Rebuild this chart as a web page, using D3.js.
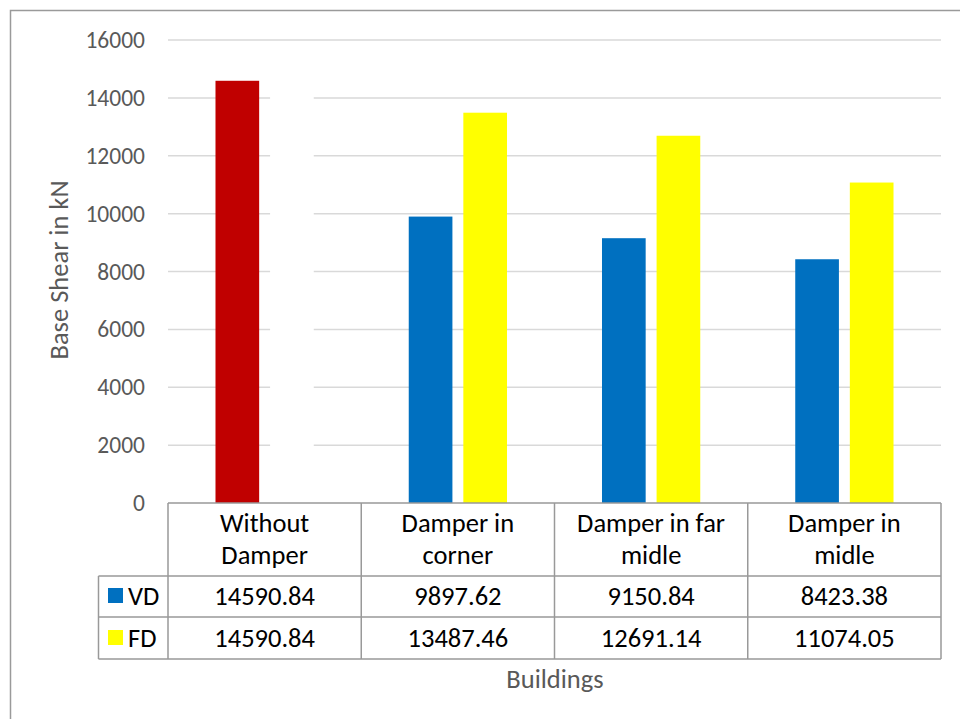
<!DOCTYPE html>
<html>
<head>
<meta charset="utf-8">
<script src="https://cdn.jsdelivr.net/npm/d3@7"></script>
<style>
  html, body { margin: 0; padding: 0; background: #fff; }
  svg { display: block; font-family: Calibri, Carlito, "Open Sans", sans-serif; }
</style>
</head>
<body>
<svg id="chart" width="960" height="719"></svg>
<script>
// Base shear per building layout, viscous (VD) and friction (FD) dampers
const categories = [["Without", "Damper"], ["Damper in", "corner"], ["Damper in far", "midle"], ["Damper in", "midle"]];
const seriesNames = ["VD", "FD"];
const vdValues = [14590.84, 9897.62, 9150.84, 8423.38];
const fdValues = [14590.84, 13487.46, 12691.14, 11074.05];
const tableLabels = {
  VD: ["14590.84", "9897.62", "9150.84", "8423.38"],
  FD: ["14590.84", "13487.46", "12691.14", "11074.05"]
};
const yTicks = [0, 2000, 4000, 6000, 8000, 10000, 12000, 14000, 16000];
const seriesColors = { VD: "#0070C0", FD: "#FFFF00" };

const svg = d3.select("#chart");
const plotLeft = 168, plotRight = 941, plotTop = 40, plotBottom = 503;

const catKeys = categories.map((c, i) => i);
const x = d3.scaleBand().domain(catKeys).range([plotLeft, plotRight]).padding(0);
const xs = d3.scaleBand().domain(seriesNames).range([0, x.bandwidth()])
  .paddingInner(0.2).paddingOuter(0.87);
const y = d3.scaleLinear().domain([0, 16000]).range([plotBottom, plotTop]);

// outer chart frame
svg.append("rect").attr("x", 10.5).attr("y", 10.5).attr("width", 1000).attr("height", 1000)
  .attr("fill", "none").attr("stroke", "#9a9a9a").attr("stroke-width", 1.5);

// gridlines
svg.append("g").selectAll("line").data(yTicks.filter(d => d > 0)).join("line")
  .attr("x1", plotLeft).attr("x2", plotRight)
  .attr("y1", d => y(d)).attr("y2", d => y(d))
  .attr("stroke", "#d9d9d9").attr("stroke-width", 1.5);

// y-axis tick labels
const yAxis = d3.axisLeft(y).tickValues(yTicks).tickSize(0).tickPadding(0).tickFormat(d3.format("d"));
const gy = svg.append("g").attr("transform", "translate(145,0)").call(yAxis);
gy.select(".domain").remove();
gy.selectAll("text").attr("font-size", 23.5).attr("fill", "#595959")
  .attr("font-family", "Calibri, Carlito, 'Open Sans', sans-serif");

// bars
const rows = catKeys.map(i => ({ i, VD: vdValues[i], FD: fdValues[i] }));
const barFill = (s, i) => {
  if (i === 0) return s === "VD" ? "#C00000" : "#FFFFFF";
  return seriesColors[s];
};
svg.append("g").selectAll("g").data(rows).join("g")
  .attr("transform", d => `translate(${x(d.i)},0)`)
  .selectAll("rect").data(d => seriesNames.map(s => ({ s, v: d[s], i: d.i }))).join("rect")
  .attr("x", d => xs(d.s)).attr("width", xs.bandwidth())
  .attr("y", d => y(d.v)).attr("height", d => y(0) - y(d.v))
  .attr("fill", d => barFill(d.s, d.i));

// data table
const rowTop = [503, 576, 617, 659];
const keyLeft = 98.5;
const tableStroke = "#999999";
const tg = svg.append("g").attr("stroke", tableStroke).attr("stroke-width", 1.5).attr("fill", "none");
tg.append("line").attr("x1", plotLeft).attr("x2", plotRight).attr("y1", rowTop[0]).attr("y2", rowTop[0]);
[1, 2, 3].forEach(r => tg.append("line").attr("x1", keyLeft).attr("x2", plotRight).attr("y1", rowTop[r]).attr("y2", rowTop[r]));
tg.append("line").attr("x1", keyLeft).attr("x2", keyLeft).attr("y1", rowTop[1]).attr("y2", rowTop[3]);
catKeys.concat([catKeys.length]).forEach(i => {
  const xv = i < catKeys.length ? x(i) : plotRight;
  tg.append("line").attr("x1", xv).attr("x2", xv).attr("y1", rowTop[0]).attr("y2", rowTop[3]);
});

const fontSize = 26.5;
// category headers
const hdr = svg.append("g").attr("font-size", fontSize).attr("fill", "#000").attr("text-anchor", "middle");
categories.forEach((lines, i) => {
  lines.forEach((ln, k) => {
    hdr.append("text").attr("x", x(i) + x.bandwidth() / 2).attr("y", 532 + k * 32).text(ln);
  });
});

// value rows with legend keys
const baselines = { VD: 605, FD: 647 };
seriesNames.forEach(s => {
  const yb = baselines[s];
  svg.append("rect").attr("x", 108).attr("y", yb - 17).attr("width", 15).attr("height", 15)
    .attr("fill", seriesColors[s]);
  svg.append("text").attr("x", 128).attr("y", yb).attr("font-size", fontSize).attr("fill", "#000").text(s);
  svg.append("g").selectAll("text").data(tableLabels[s]).join("text")
    .attr("x", (d, i) => x(i) + x.bandwidth() / 2).attr("y", yb)
    .attr("text-anchor", "middle").attr("font-size", fontSize).attr("fill", "#000")
    .text(d => d);
});

// axis titles
svg.append("text").attr("x", 555).attr("y", 688).attr("text-anchor", "middle")
  .attr("font-size", fontSize).attr("fill", "#595959").text("Buildings");
svg.append("text").attr("transform", "translate(68,270) rotate(-90)").attr("text-anchor", "middle")
  .attr("font-size", fontSize).attr("fill", "#595959").text("Base Shear in kN");
</script>
</body>
</html>
